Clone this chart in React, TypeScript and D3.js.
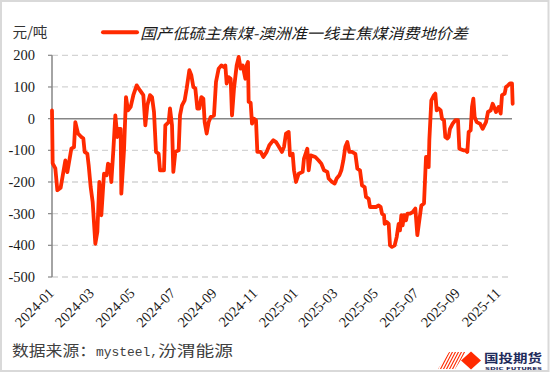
import React from 'react';
import * as d3 from 'd3';

// days since 2024-01-01
const dayOffsets = [0,1,5,8,13,20,23,29,33,35,39,44,47,49,53,55,58,61,65,68,71,74,78,82,84,87,89,92,95,98,100,103,104,108,111,114,118,122,127,132,137,140,143,147,150,153,156,160,162,168,170,175,177,180,182,185,190,192,195,199,202,206,209,212,215,218,221,224,227,229,232,235,238,243,246,250,254,258,260,262,265,268,270,273,277,280,283,286,290,292,294,295,298,300,303,306,308,313,317,322,326,332,336,339,345,348,351,355,357,361,363,366,370,376,378,383,385,388,395,400,404,408,413,415,420,424,427,431,434,437,440,443,446,450,455,458,462,465,469,471,475,477,482,486,490,493,495,498,499,502,505,507,510,514,517,520,522,524,526,528,531,533,537,541,545,548,551,554,558,561,564,565,566,569,573,575,577,580,583,585,588,590,593,595,597,601,605,609,611,617,620,623,625,628,630,632,634,637,642,646,651,654,658,661,664,666,670,673,675,679,681,684,687,690,691];

const spread = [26,-141,-157,-226,-218,-132,-169,-95,-90,-11,-47,-58,-63,-105,-111,-147,-216,-263,-395,-358,-200,-305,-174,-179,-142,-147,-200,-100,10,-58,-32,-32,-237,-100,68,26,37,74,105,89,74,-21,42,74,68,21,-105,-111,-163,-163,-21,-11,32,-21,-168,-105,-100,10,42,58,95,153,137,100,95,32,32,68,63,-11,-47,-11,5,10,116,158,168,163,168,111,131,126,10,95,168,195,158,168,126,168,179,53,50,-16,0,-5,-105,-105,-121,-105,-84,-68,-74,-84,-105,-89,-47,-42,-116,-111,-163,-200,-174,-168,-126,-95,-163,-116,-121,-132,-142,-163,-168,-189,-200,-205,-189,-179,-163,-132,-89,-74,-105,-105,-111,-158,-163,-211,-216,-247,-253,-279,-279,-279,-274,-279,-300,-305,-332,-326,-332,-400,-405,-400,-374,-332,-353,-305,-337,-305,-321,-300,-300,-295,-284,-368,-321,-274,-268,-121,-121,-153,-68,58,74,79,26,32,26,0,-5,-58,-63,-58,-32,-16,-5,-5,-95,-100,-100,-105,-42,-37,37,63,5,-11,-16,-32,-11,21,26,47,32,21,37,16,74,79,100,105,111,111,47];

const yTicks = [200, 100, 0, -100, -200, -300, -400, -500];
const xTickLabels = ['2024-01','2024-03','2024-05','2024-07','2024-09','2024-11','2025-01','2025-03','2025-05','2025-07','2025-09','2025-11'];

const seriesName = '国产低硫主焦煤-澳洲准一线主焦煤消费地价差';
const unitLabel = '元/吨';

const start = new Date(2024, 0, 1);

export default function App() {
  const W = 550, H = 373;
  const left = 52, right = 512, top = 55.3, bottom = 277;

  const x = d3.scaleTime()
    .domain([start, d3.timeDay.offset(start, 690)])
    .range([left, right]);
  const y = d3.scaleLinear().domain([-500, 200]).range([bottom, top]);

  const pts = dayOffsets.map((d, i) => ({ date: d3.timeDay.offset(start, d), v: spread[i] }));
  const line = d3.line<{ date: Date; v: number }>()
    .x(d => x(d.date))
    .y(d => y(d.v));

  const parse = d3.timeParse('%Y-%m');
  const red = '#ff2a00';
  const serif = "'Liberation Serif', 'Times New Roman', serif";
  const cjk = "'Noto Sans CJK SC', sans-serif";

  return (
    <svg width={W} height={H} style={{ position: 'absolute', left: 0, top: 0, background: '#fff' }}>
      <rect x={1} y={1} width={W - 2.5} height={H - 3} fill="#fff" stroke="#d9d9d9" strokeWidth={2} />

      {/* gridlines */}
      {yTicks.filter(t => t !== 0).map(t => (
        <line key={t} x1={left} x2={right} y1={y(t)} y2={y(t)} stroke="#d4d4d4" strokeWidth={1.3} strokeDasharray="6,4" />
      ))}
      <line x1={left} x2={right} y1={y(0)} y2={y(0)} stroke="#868686" strokeWidth={1.5} />

      {/* y axis */}
      <line x1={left} x2={left} y1={top} y2={bottom} stroke="#868686" strokeWidth={1.5} />
      {yTicks.map(t => (
        <g key={t}>
          <line x1={left - 4} x2={left} y1={y(t)} y2={y(t)} stroke="#868686" strokeWidth={1.2} />
          <text x={35} y={y(t)} dy="0.35em" textAnchor="end" fontFamily={serif} fontSize={14.5} fill="#1a1a1a">{t}</text>
        </g>
      ))}

      {/* x labels */}
      {xTickLabels.map(l => {
        const tx = x(parse(l)!) + 3;
        const ty = 294;
        return (
          <text key={l} x={tx} y={ty} transform={`rotate(-45 ${tx} ${ty})`} textAnchor="end" fontFamily={serif} fontSize={14.5} fill="#1a1a1a">{l}</text>
        );
      })}

      <path d={line(pts) ?? ''} fill="none" stroke={red} strokeWidth={3.8} strokeLinejoin="round" strokeLinecap="round" />

      {/* unit + legend */}
      <text x={12.5} y={37} fontFamily={cjk} fontSize={14} fill="#333" textLength={35} lengthAdjust="spacingAndGlyphs">{unitLabel}</text>
      <line x1={103} x2={137} y1={32.3} y2={32.3} stroke={red} strokeWidth={4} strokeLinecap="round" />
      <text x={140} y={38.5} fontFamily={cjk} fontStyle="italic" fontSize={15} fill="#1a1a1a" textLength={328} lengthAdjust="spacingAndGlyphs">{seriesName}</text>

      {/* source */}
      <text y={356} fontSize={15} fill="#404040">
        <tspan x={12} fontFamily={cjk} textLength={84} lengthAdjust="spacingAndGlyphs">数据来源：</tspan>
        <tspan x={96} fontFamily="'Liberation Mono', monospace" fontSize={13} textLength={62} lengthAdjust="spacingAndGlyphs">mysteel,</tspan>
        <tspan x={158} fontFamily={cjk} textLength={75} lengthAdjust="spacingAndGlyphs">汾渭能源</tspan>
      </text>

      {/* logo */}
      <defs>
        <clipPath id="stripeClip">
          <polygon points="438,369 449,352 466,352 455,369" />
        </clipPath>
      </defs>
      <g clipPath="url(#stripeClip)">
        {d3.range(0, 12).map(i => (
          <line key={i} x1={430 + i * 3} y1={372} x2={442 + i * 3} y2={349} stroke={red} strokeWidth={1.1} />
        ))}
      </g>
      <polygon points="461,360.5 471,351.5 481,360.5 471,369.5" fill={red} />
      <text x={484} y={362.5} fontFamily={cjk} fontWeight="bold" fontSize={12} fill="#1f2b5b" textLength={58} lengthAdjust="spacingAndGlyphs">国投期货</text>
      <text x={485} y={369.8} fontFamily="'DejaVu Sans', sans-serif" fontWeight="bold" fontSize={4.2} fill="#1f2b5b" textLength={57} lengthAdjust="spacingAndGlyphs">SDIC FUTURES</text>
    </svg>
  );
}
